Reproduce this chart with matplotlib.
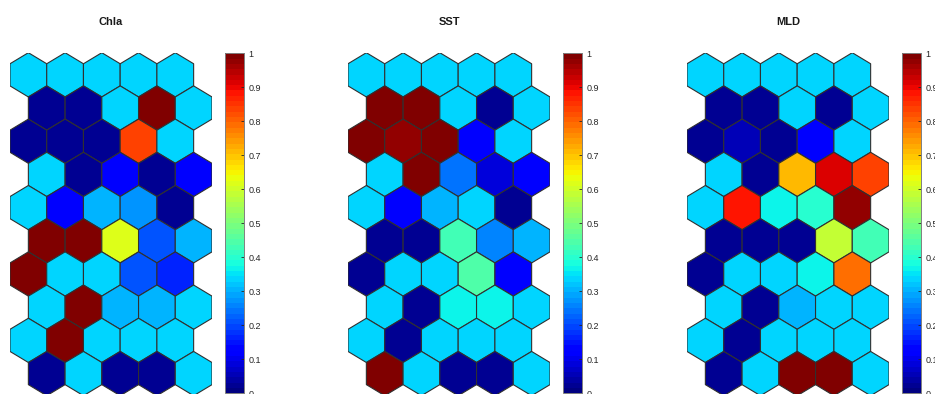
import numpy as np
import matplotlib as mpl
mpl.use('Agg')
import matplotlib.pyplot as plt
from matplotlib.collections import PolyCollection

# component planes of a 10x5 hexagonal SOM (row 0 = top row)
names = ["Chla", "SST", "MLD"]

chla = [[0.34, 0.34, 0.34, 0.34, 0.34],
        [0.02, 0.02, 0.34, 1.00, 0.34],
        [0.02, 0.03, 0.02, 0.83, 0.34],
        [0.34, 0.02, 0.12, 0.03, 0.12],
        [0.34, 0.12, 0.30, 0.27, 0.02],
        [1.00, 1.00, 0.61, 0.21, 0.30],
        [1.00, 0.34, 0.34, 0.21, 0.16],
        [0.34, 1.00, 0.30, 0.30, 0.34],
        [0.34, 1.00, 0.34, 0.34, 0.34],
        [0.02, 0.34, 0.02, 0.02, 0.34]]

sst = [[0.34, 0.34, 0.34, 0.34, 0.34],
       [1.00, 1.00, 0.34, 0.02, 0.34],
       [1.00, 0.97, 1.00, 0.12, 0.34],
       [0.34, 1.00, 0.24, 0.09, 0.11],
       [0.34, 0.12, 0.31, 0.34, 0.02],
       [0.02, 0.02, 0.43, 0.25, 0.31],
       [0.02, 0.34, 0.34, 0.44, 0.12],
       [0.34, 0.02, 0.37, 0.37, 0.34],
       [0.34, 0.03, 0.34, 0.34, 0.34],
       [1.00, 0.34, 0.02, 0.02, 0.34]]

mld = [[0.34, 0.34, 0.34, 0.34, 0.34],
       [0.02, 0.02, 0.34, 0.02, 0.34],
       [0.02, 0.05, 0.02, 0.12, 0.34],
       [0.34, 0.02, 0.71, 0.92, 0.84],
       [0.34, 0.89, 0.37, 0.40, 0.98],
       [0.02, 0.02, 0.02, 0.59, 0.43],
       [0.02, 0.34, 0.34, 0.36, 0.79],
       [0.34, 0.02, 0.31, 0.34, 0.34],
       [0.34, 0.02, 0.34, 0.34, 0.34],
       [0.02, 0.34, 1.00, 1.00, 0.34]]

cbar_ticks = [0, 0.1, 0.2, 0.3, 0.4, 0.5, 0.6, 0.7, 0.8, 0.9, 1]

mpl.rcParams.update({'font.family': 'Liberation Sans'})
cmap = plt.get_cmap('jet', 64)
norm = mpl.colors.Normalize(0, 1)

W, H = 935, 394
fig = plt.figure(figsize=(W / 100, H / 100), dpi=100)

# hexagon shape (pointy top), unit width
h = 1 / np.sqrt(3)
ang = np.deg2rad(np.arange(6) * 60 + 90)
hex_shape = np.c_[h * np.cos(ang), h * np.sin(ang)]
dy = 1.5 * h


def px_axes(x0, x1, y_top, y_bot):
  return fig.add_axes([x0 / W, 1 - y_bot / H, (x1 - x0) / W, (y_bot - y_top) / H])


hex_left = [10, 348, 687]
cb_left = [225, 563, 902]

for k, (name, vals) in enumerate(zip(names, [chla, sst, mld])):
  vals = np.array(vals)
  nrow, ncol = vals.shape
  polys = []
  colors = []
  for r in range(nrow):
    for c in range(ncol):
      cx = c + 0.5 * (r % 2)
      cy = -r * dy
      polys.append(hex_shape + [cx, cy])
      colors.append(vals[r, c])

  ax = px_axes(hex_left[k], hex_left[k] + 202, 52.7, 395.7)
  pc = PolyCollection(polys, array=np.array(colors), cmap=cmap, norm=norm,
                      edgecolors='#303030', linewidths=0.8)
  ax.add_collection(pc)
  ax.set_xlim(-0.5, ncol)
  ax.set_ylim(-(nrow - 1) * dy - h, h)
  ax.axis('off')

  fig.text((hex_left[k] + 101) / W, 1 - 21.7 / H, name, ha='center', va='center',
           fontsize=8, fontweight='bold', color='#1a1a1a')

  cax = px_axes(cb_left[k], cb_left[k] + 19, 53.3, 393.3)
  cb = fig.colorbar(mpl.cm.ScalarMappable(norm=norm, cmap=cmap), cax=cax, ticks=cbar_ticks)
  cb.ax.set_yticklabels([("%g" % t) for t in cbar_ticks])
  cb.ax.tick_params(direction='in', length=2, width=0.6, labelsize=6.5,
                    colors='#262626', pad=3)
  cb.outline.set_edgecolor('#7f7f7f')
  cb.outline.set_linewidth(0.7)

fig.savefig("out.png", dpi=100)
